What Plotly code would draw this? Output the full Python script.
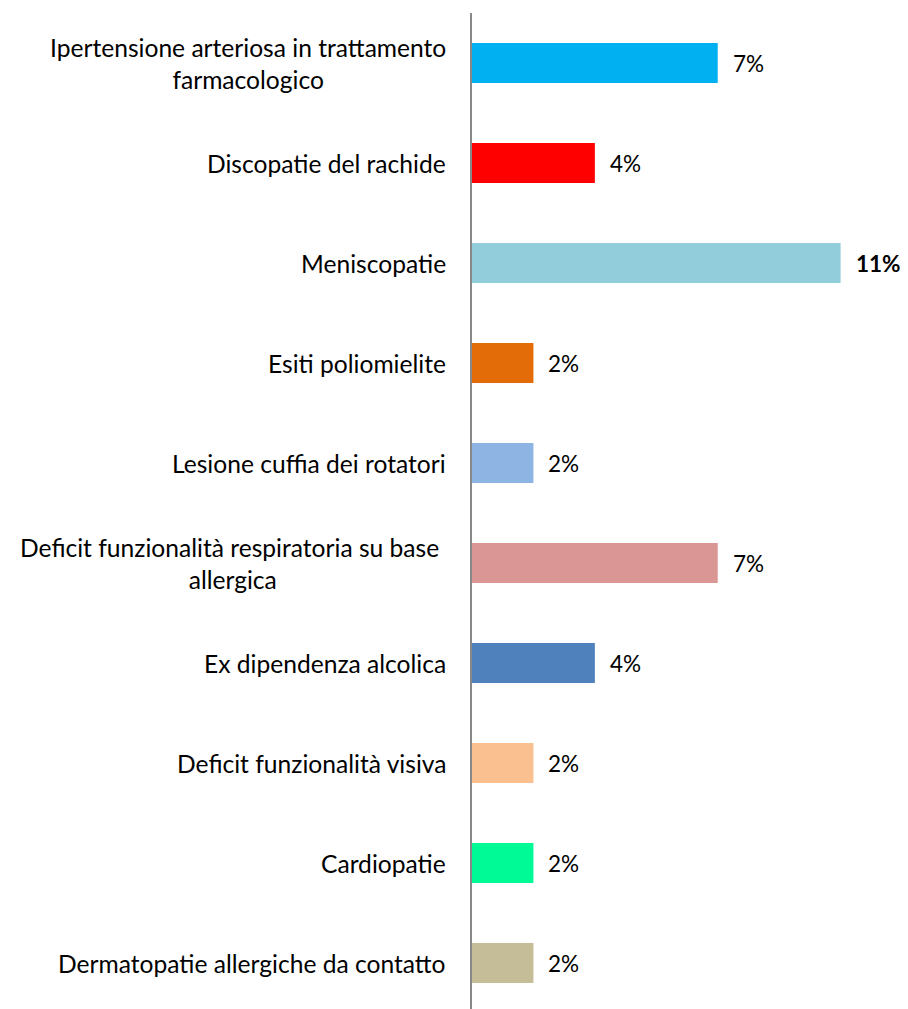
import plotly.graph_objects as go

categories = [
    "Ipertensione arteriosa in trattamento<br>farmacologico",
    "Discopatie del rachide",
    "Meniscopatie",
    "Esiti poliomielite",
    "Lesione cuffia dei rotatori",
    "Deficit funzionalità respiratoria su base <br>allergica",
    "Ex dipendenza alcolica",
    "Deficit funzionalità visiva",
    "Cardiopatie",
    "Dermatopatie allergiche da contatto",
]
# percentages (bar lengths), and the rounded labels shown on the chart
values = [7.4, 3.7, 11.1, 1.85, 1.85, 7.4, 3.7, 1.85, 1.85, 1.85]
labels = ["7%", "4%", "11%", "2%", "2%", "7%", "4%", "2%", "2%", "2%"]
colors = ["#00B0F0", "#FF0000", "#92CDDC", "#E36C09", "#8DB4E2",
          "#D99694", "#4F81BD", "#FAC08F", "#00FA96", "#C4BD97"]

FONT = "Lato"

fig = go.Figure()
fig.add_trace(go.Bar(
    y=categories, x=values, orientation="h",
    marker=dict(color=colors, line=dict(width=0)),
    width=0.4, hoverinfo="skip",
))

annotations = []
for cat, val, lab in zip(categories, values, labels):
    annotations.append(dict(
        x=0, xref="paper", y=cat, yref="y", text=cat,
        xanchor="right", yanchor="middle", align="center", xshift=-24,
        showarrow=False, font=dict(family=FONT, size=24.6, color="#000000"),
    ))
    annotations.append(dict(
        x=val, xref="x", y=cat, yref="y",
        text=f"<b>{lab}</b>" if lab == "11%" else lab,
        xanchor="left", yanchor="middle", xshift=13,
        showarrow=False, font=dict(family=FONT, size=22.5, color="#000000"),
    ))

fig.update_layout(
    width=900, height=1001,
    margin=dict(l=464, r=0, t=5, b=0),
    paper_bgcolor="white", plot_bgcolor="white",
    showlegend=False, annotations=annotations,
    bargap=0.6,
)
fig.update_xaxes(range=[0, 13.13], visible=False, showgrid=False, zeroline=False)
fig.update_yaxes(
    categoryorder="array", categoryarray=categories,
    range=[9.46, -0.5], showticklabels=False, ticks="",
    showgrid=False, zeroline=False,
    showline=True, linecolor="#888888", linewidth=2,
)

fig.write_html("out.html")
